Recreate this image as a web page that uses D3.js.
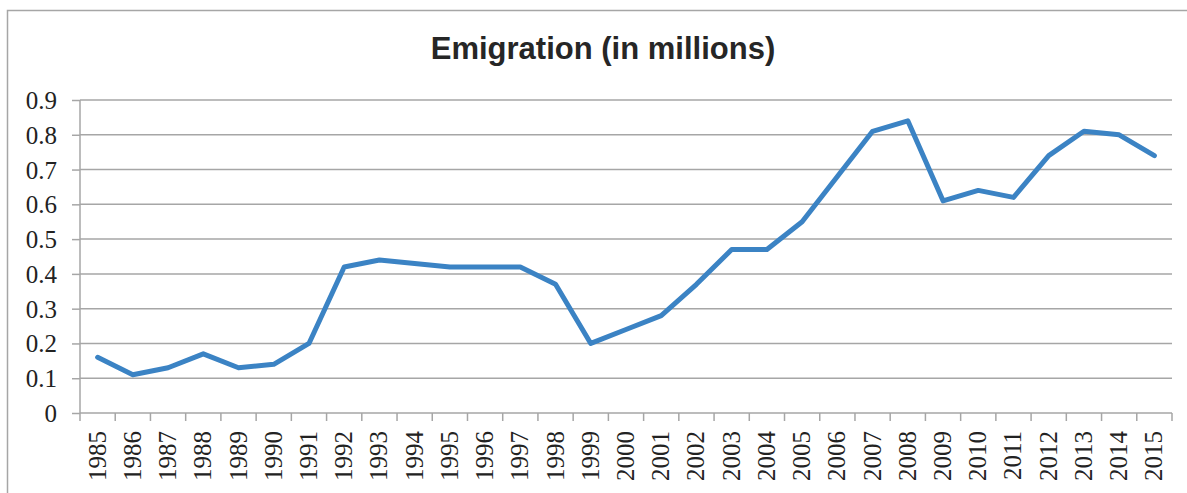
<!DOCTYPE html>
<html>
<head>
<meta charset="utf-8">
<script src="https://cdn.jsdelivr.net/npm/d3@7"></script>
<style>
  html, body { margin: 0; padding: 0; background: #fff; }
  svg { display: block; }
</style>
</head>
<body>
<svg id="chart" width="1187" height="493"></svg>
<script>
const years = [1985,1986,1987,1988,1989,1990,1991,1992,1993,1994,1995,1996,1997,1998,1999,2000,2001,2002,2003,2004,2005,2006,2007,2008,2009,2010,2011,2012,2013,2014,2015];
const emigration = [0.16,0.11,0.13,0.17,0.13,0.14,0.20,0.42,0.44,0.43,0.42,0.42,0.42,0.37,0.20,0.24,0.28,0.37,0.47,0.47,0.55,0.68,0.81,0.84,0.61,0.64,0.62,0.74,0.81,0.80,0.74];
const yTicks = [0,0.1,0.2,0.3,0.4,0.5,0.6,0.7,0.8,0.9];
const title = "Emigration (in millions)";

const svg = d3.select("#chart");
const mLeft = 80, mRight = 1172, mTop = 100, mBottom = 413;

// outer frame
svg.append("rect").attr("x", 7.5).attr("y", 10.5).attr("width", 1250).attr("height", 600)
  .attr("fill", "none").attr("stroke", "#a6a6a6").attr("stroke-width", 1.5);

const x = d3.scaleBand().domain(years.map(String)).range([mLeft, mRight]).paddingInner(0).paddingOuter(0);
const y = d3.scaleLinear().domain([0, 0.9]).range([mBottom, mTop]);

// gridlines
svg.append("g").selectAll("line").data(yTicks.filter(d => d > 0)).join("line")
  .attr("x1", mLeft).attr("x2", mRight)
  .attr("y1", d => y(d)).attr("y2", d => y(d))
  .attr("stroke", "#a6a6a6").attr("stroke-width", 1.5);

// y axis
const yAxis = svg.append("g").attr("transform", `translate(${mLeft},0)`)
  .call(d3.axisLeft(y).tickValues(yTicks).tickSize(8).tickPadding(15).tickFormat(d => d === 0 ? "0" : d3.format(".1f")(d)));
yAxis.select(".domain").attr("stroke", "#a6a6a6").attr("stroke-width", 1.5).attr("d", `M0,${mTop}V${mBottom}`);
yAxis.selectAll(".tick line").attr("stroke", "#a6a6a6").attr("stroke-width", 1.5);
yAxis.selectAll(".tick text").attr("fill", "#222").attr("font-family", "'Liberation Serif', 'Times New Roman', serif").attr("font-size", 25).attr("dy", "0.34em");

// x axis
const xAxis = svg.append("g").attr("transform", `translate(0,${mBottom})`)
  .call(d3.axisBottom(x).tickSize(0).tickPadding(0));
xAxis.select(".domain").attr("stroke", "#a6a6a6").attr("stroke-width", 1.5).attr("d", `M${mLeft},0H${mRight}`);
// ticks at band boundaries
const bounds = years.map(d => x(String(d))).concat([mRight]);
svg.append("g").selectAll("line").data(bounds).join("line")
  .attr("x1", d => d).attr("x2", d => d).attr("y1", mBottom).attr("y2", mBottom + 8)
  .attr("stroke", "#a6a6a6").attr("stroke-width", 1.5);
xAxis.selectAll(".tick text")
  .attr("fill", "#222").attr("font-family", "'Liberation Serif', 'Times New Roman', serif").attr("font-size", 25)
  .attr("text-anchor", "end")
  .attr("transform", "translate(8,18) rotate(-90)")
  .attr("dy", "0").attr("y", 0).attr("x", 0);

// line
const line = d3.line().x((d, i) => x(String(years[i])) + x.bandwidth() / 2).y(d => y(d));
svg.append("path").datum(emigration).attr("d", line)
  .attr("fill", "none").attr("stroke", "#3b83c4").attr("stroke-width", 5)
  .attr("stroke-linejoin", "round").attr("stroke-linecap", "round");

// title
svg.append("text").attr("x", 603).attr("y", 59).attr("text-anchor", "middle")
  .attr("font-family", "'Liberation Sans', Arial, sans-serif").attr("font-weight", "bold")
  .attr("font-size", 31).attr("fill", "#262626").text(title);
</script>
</body>
</html>
